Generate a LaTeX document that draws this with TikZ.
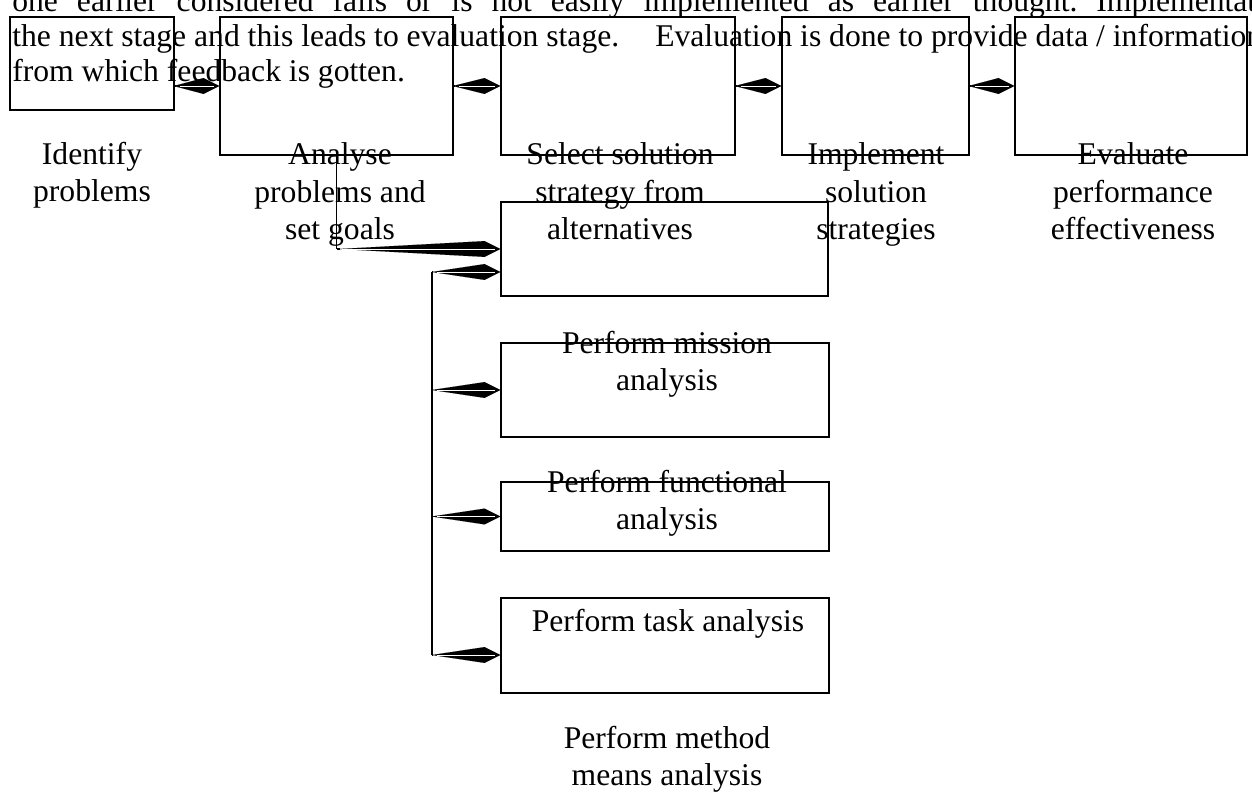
\documentclass[tikz,border=0pt]{standalone}
\usepackage{fontspec}
\setmainfont{Liberation Serif}
\usetikzlibrary{arrows.meta}

\begin{document}
\begin{tikzpicture}
  [x=0.02cm, y=-0.02cm,
    box/.style={draw, line width=0.8pt, inner sep=0pt},
    lbl/.style={align=center, anchor=base, inner sep=0pt,
      font=\fontsize{18}{21.5}\selectfont},
    para/.style={anchor=base west, inner sep=0pt,
      font=\fontsize{18}{20}\selectfont},
    wedge/.style={line width=0.8pt,
      -{Kite[length=#1, width=9pt, inset'=-9pt 1, line width=0.01pt]},
      postaction={draw=white, line width=0.5pt, -, shorten <=3pt, shorten >=3pt}}]
  \useasboundingbox (0,0) rectangle (1252,793);
  % text of the page behind the chart
  \node[para] (line1) at (12,12)
    {\hbox to 24.88cm{one\hfill earlier\hfill considered\hfill fails\hfill or\hfill is\hfill not\hfill easily\hfill implemented\hfill as\hfill earlier\hfill thought.\hfill Implementat}};
  \node[para] (line2) at (12,47)
    {the next stage and this leads to evaluation stage.\hspace{0.72cm}Evaluation is done to provide data / information};
  \node[para] (line3) at (12,82) {from which feedback is gotten.};
  % stages
  \node[box, minimum width=3.28cm, minimum height=1.86cm] (box1) at (92,63.5) {};
  \node[box, minimum width=4.66cm, minimum height=2.76cm] (box2) at (336.5,86) {};
  \node[box, minimum width=4.68cm, minimum height=2.76cm] (box3) at (618,86) {};
  \node[box, minimum width=3.74cm, minimum height=2.76cm] (box4) at (875.5,86) {};
  \node[box, minimum width=4.64cm, minimum height=2.76cm] (box5) at (1131,86) {};
  \node[box, minimum width=6.54cm, minimum height=1.88cm] (box6) at (664.5,249) {};
  \node[box, minimum width=6.56cm, minimum height=1.88cm] (box7) at (665,390) {};
  \node[box, minimum width=6.56cm, minimum height=1.38cm] (box8) at (665,516.5) {};
  \node[box, minimum width=6.56cm, minimum height=1.90cm] (box9) at (665,645.5) {};
  % labels (placed by the baseline of their last line)
  \node[lbl] (identify) at (92,202) {Identify\\problems};
  \node[lbl] (analyse) at (340,240) {Analyse\\problems and\\set goals};
  \node[lbl] (select) at (620,240) {Select solution\\strategy from\\alternatives};
  \node[lbl] (implement) at (876,240) {Implement\\solution\\strategies};
  \node[lbl] (evaluate) at (1133,240) {Evaluate\\performance\\effectiveness};
  \node[lbl] (mission) at (667,391) {Perform mission\\analysis};
  \node[lbl] (functional) at (667,530) {Perform functional\\analysis};
  \node[lbl] (task) at (668,632) {Perform task analysis};
  \node[lbl] (method) at (667,786) {Perform method\\means analysis};
  % connectors
  \draw[wedge=26pt] (box1.east |- box2.west) -- (box2.west);
  \draw[wedge=27pt] (box2) -- (box3);
  \draw[wedge=26.5pt] (box3) -- (box4);
  \draw[wedge=26pt] (box4) -- (box5);
  \draw[line width=0.8pt] (box2.south) -- (box2.south |- box6.west) coordinate (goals);
  \draw[wedge=92pt] (goals) -- (box6.west);
  \coordinate (s1) at (432,272);
  \coordinate (s4) at (432,655);
  \draw[line width=0.8pt] (s1) -- (s4);
  \draw[wedge=39pt] (s1) -- (s1 -| box6.west);
  \draw[wedge=39pt] (s1 |- box7.west) -- (box7.west);
  \draw[wedge=39pt] (s1 |- box8.west) -- (box8.west);
  \draw[wedge=39pt] (s4) -- (s4 -| box9.west);
\end{tikzpicture}
\end{document}
